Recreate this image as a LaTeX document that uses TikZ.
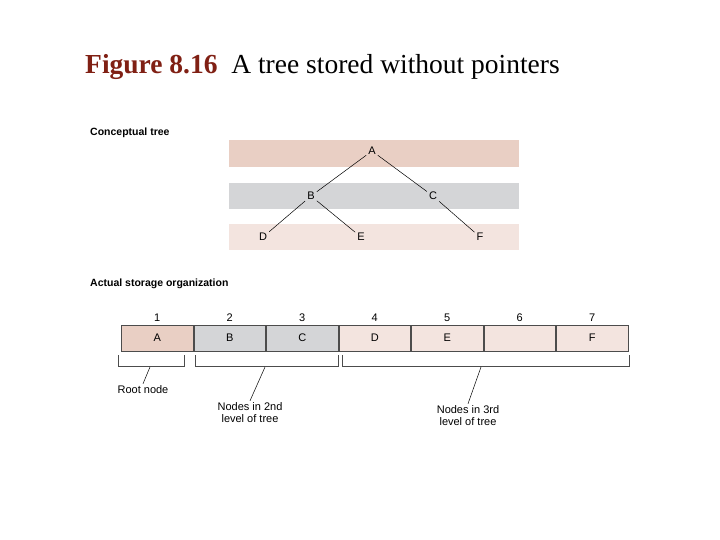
\documentclass[tikz,border=0pt]{standalone}
\usepackage{fontspec}
\usetikzlibrary{positioning}
\setmainfont{Liberation Sans}
\newfontfamily\titlefont{Liberation Serif}
\definecolor{rootpink}{RGB}{233,207,196}
\definecolor{levelgray}{RGB}{212,213,215}
\definecolor{leafpink}{RGB}{243,228,223}
\definecolor{figred}{RGB}{128,32,20}
\tikzset{
  lbl/.style={inner sep=2pt, font=\fontsize{11}{12}\selectfont},
  head/.style={anchor=west, inner sep=0pt, font=\bfseries\fontsize{10.5}{12}\selectfont},
  cell/.style={draw=black!70, line width=0.6pt, minimum width=71.9pt, minimum height=26pt, inner sep=0pt, anchor=west, font=\fontsize{11}{12}\selectfont},
  edge/.style={line width=0.5pt},
}
\begin{document}
\begin{tikzpicture}[x=1pt,y=1pt,yscale=-1]
\useasboundingbox (0,0) rectangle (720,540);

% Title
\node[anchor=base west, inner sep=0pt, font=\titlefont\fontsize{27.5}{30}\selectfont] (title) at (85,74)
  {\textcolor{figred}{\bfseries Figure 8.16}\ \ A tree stored without pointers};

% Conceptual tree
\node[head] (hconc) at (90,133) {Conceptual tree};
\fill[rootpink] (229,140) rectangle (519,167);
\fill[levelgray] (229,183) rectangle (519,209);
\fill[leafpink] (229,224) rectangle (519,250);

\node[lbl] (A) at (372,151) {A};
\node[lbl] (B) at (311,196) {B};
\node[lbl] (C) at (433,196) {C};
\node[lbl] (D) at (263,237) {D};
\node[lbl] (E) at (361,237) {E};
\node[lbl] (F) at (480,237) {F};
\draw[edge] (A) -- (B);
\draw[edge] (A) -- (C);
\draw[edge] (B) -- (D);
\draw[edge] (B) -- (E);
\draw[edge] (C) -- (F);

% Actual storage
\node[head] (hstore) at (90,284) {Actual storage organization};
\node[cell, fill=rootpink] (c1) at (121,338) {A};
\node[cell, fill=levelgray, right=0pt of c1] (c2) {B};
\node[cell, fill=levelgray, right=0pt of c2] (c3) {C};
\node[cell, fill=leafpink, right=0pt of c3] (c4) {D};
\node[cell, fill=leafpink, right=0pt of c4] (c5) {E};
\node[cell, fill=leafpink, right=0pt of c5] (c6) {};
\node[cell, fill=leafpink, right=0pt of c6] (c7) {F};
\foreach \i in {1,...,7}
  \node[lbl, above=1pt of c\i] (n\i) {\i};

% Brackets
\draw[edge, black!70] (118,355) -- (118,366) -- (184,366) -- (184,355);
\draw[edge, black!70] (195,355) -- (195,366) -- (338,366) -- (338,355);
\draw[edge, black!70] (342,355) -- (342,366) -- (629,366) -- (629,355);

\node[lbl] (root) at (143,390) {Root node};
\node[lbl, align=center] (lev2) at (250,413) {Nodes in 2nd\\level of tree};
\node[lbl, align=center] (lev3) at (468,416) {Nodes in 3rd\\level of tree};
\coordinate (b1) at (150,367);
\coordinate (b2) at (265,367);
\coordinate (b3) at (481,367);
\draw[edge] (b1) -- (root.north);
\draw[edge] (b2) -- (lev2.north);
\draw[edge] (b3) -- (lev3.north);
\end{tikzpicture}
\end{document}
